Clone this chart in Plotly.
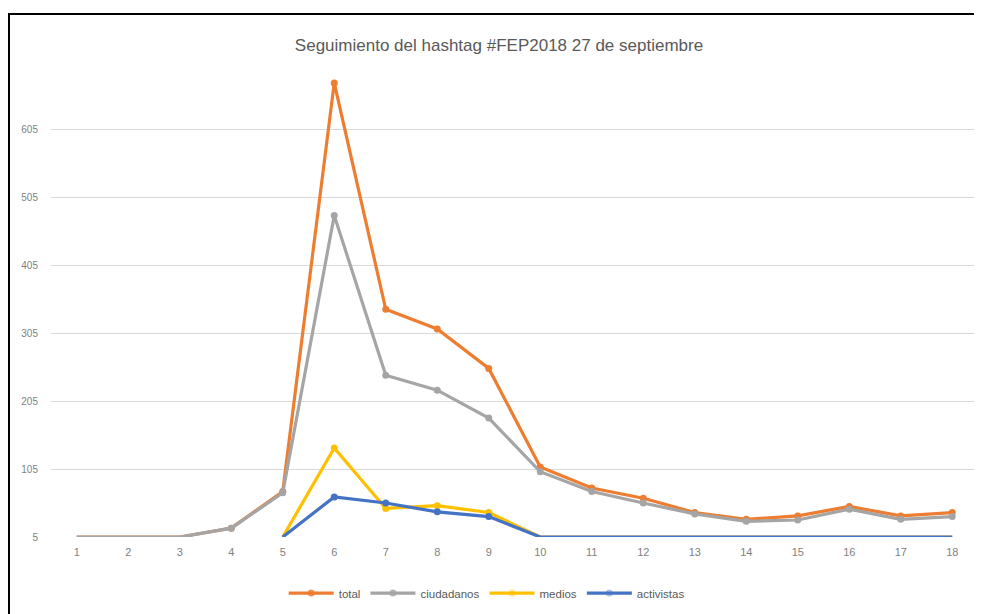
import plotly.graph_objects as go

categories = [str(i) for i in range(1, 19)]
total =       [5, 5, 5, 18, 72, 673, 340, 311, 253, 108, 77, 62, 41, 31, 36, 50, 36, 41]
ciudadanos =  [5, 5, 5, 18, 70, 478, 243, 221, 180, 101, 72, 55, 39, 28, 30, 46, 31, 35]
medios =      [None, None, None, None, 5, 136, 47, 51, 41, 5, 5, 5, 5, 5, 5, 5, 5, 5]
activistas =  [None, None, None, None, 5, 64, 55, 42, 35, 5, 5, 5, 5, 5, 5, 5, 5, 5]
y_ticks = [5, 105, 205, 305, 405, 505, 605]

series = [
    ("total", total, "#ED7D31"),
    ("ciudadanos", ciudadanos, "#A5A5A5"),
    ("medios", medios, "#FFC000"),
    ("activistas", activistas, "#4472C4"),
]

fig = go.Figure()
for name, vals, col in series:
    opac = [1 if v is None else (0 if v <= 5 else 1) for v in vals]
    fig.add_trace(go.Scatter(
        x=categories, y=vals, name=name, mode="lines+markers",
        line=dict(color=col, width=3.2),
        marker=dict(color=col, size=7, symbol="circle", opacity=opac),
        cliponaxis=False,
    ))

font_family = "Liberation Sans Narrow, Arial Narrow, Liberation Sans, sans-serif"
# page is rendered with an 8px body offset; layout compensates for it
fig.update_layout(
    width=982, height=614,
    paper_bgcolor="white", plot_bgcolor="white",
    margin=dict(l=43, r=12, t=62, b=85),
    title=dict(text="Seguimiento del hashtag #FEP2018 27 de septiembre",
               x=0.5, xanchor="center", y=0.94, yanchor="middle",
               font=dict(family=font_family, size=17, color="#595959")),
    font=dict(family=font_family, color="#595959"),
    showlegend=True,
    legend=dict(orientation="h", x=0.47, xanchor="center", y=-0.12, yanchor="middle",
                font=dict(size=11.5, color="#595959"), itemwidth=45,
                traceorder="normal"),
    xaxis=dict(type="category", showgrid=False, showline=False, ticks="",
               tickfont=dict(size=11, color="#7F7F7F"), zeroline=False,
               range=[-0.5, 17.5], ticklabelstandoff=7),
    yaxis=dict(range=[5, 692], tickvals=y_ticks, ticktext=[str(v) for v in y_ticks],
               showgrid=True, gridcolor="#D9D9D9", gridwidth=1, zeroline=False,
               showline=False, tickfont=dict(size=10, color="#7F7F7F"), ticks="",
               ticklabelstandoff=12),
)
# outer chart border
fig.add_shape(type="rect", xref="paper", yref="paper",
              x0=(1 - 43) / 927, x1=(972 - 43) / 927,
              y0=(529 - 620) / 467, y1=(529 - 6) / 467,
              line=dict(color="black", width=2), layer="above")

fig.write_html("out.html")
